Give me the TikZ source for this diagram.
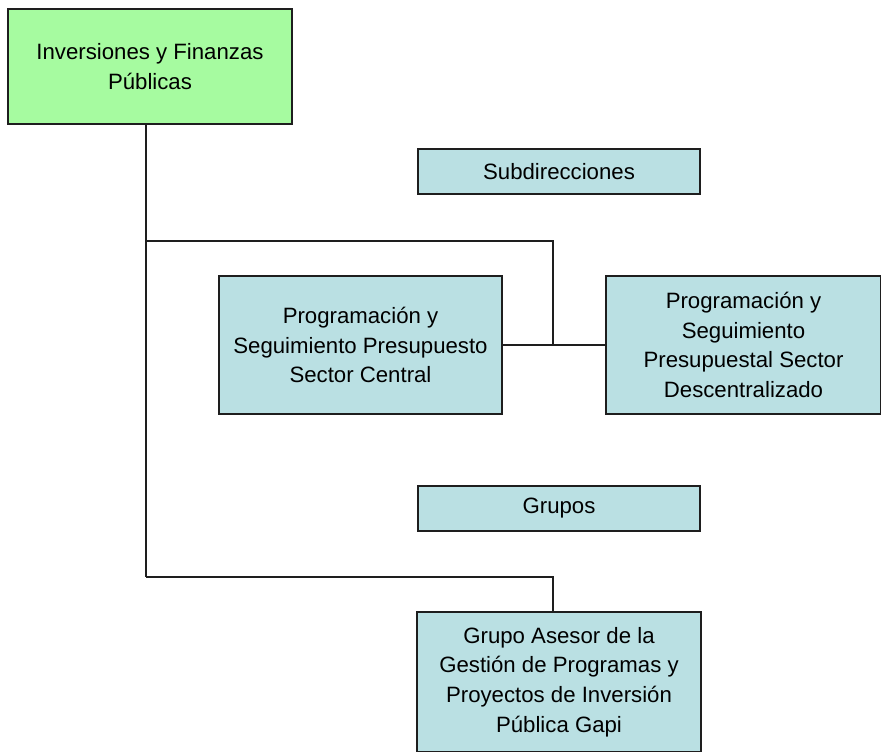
\documentclass[tikz,border=0pt]{standalone}
\usepackage{fontspec}
\setmainfont{Liberation Sans}
\definecolor{gboxfill}{RGB}{166,251,160}
\definecolor{bboxfill}{RGB}{186,224,227}
\definecolor{edgecol}{RGB}{30,30,30}
\begin{document}
\begin{tikzpicture}[x=1pt,y=-1pt,
  box/.style={draw=edgecol,line width=1.2pt,align=center,inner sep=0pt,
    font=\fontsize{22.2}{29.6}\selectfont},
  conn/.style={draw=edgecol,line width=1.2pt}]
\useasboundingbox (0,0) rectangle (881,752);
\node[box,fill=gboxfill,minimum width=284pt,minimum height=115pt] (ifp) at (150,66.5) {Inversiones y Finanzas\\[1pt]Públicas};
\node[box,fill=bboxfill,minimum width=282pt,minimum height=45pt] (sub) at (559,171.5) {Subdirecciones};
\node[box,fill=bboxfill,minimum width=283pt,minimum height=138pt] (psc) at (360.5,345) {Programación y\\Seguimiento Presupuesto\\Sector Central};
\node[box,fill=bboxfill,minimum width=275pt,minimum height=138pt] (psd) at (743.5,345) {Programación y\\Seguimiento\\Presupuestal Sector\\Descentralizado};
\node[box,fill=bboxfill,minimum width=282pt,minimum height=45pt] (grp) at (559,508.5) {Grupos};
\node[box,fill=bboxfill,minimum width=284pt,minimum height=140pt] (gap) at (559,682) {Grupo Asesor de la\\Gestión de Programas y\\Proyectos de Inversión\\Pública Gapi};
\coordinate (j1) at (146,241);
\coordinate (j2) at (553,241);
\coordinate (j3) at (553,345);
\coordinate (j4) at (146,577);
\coordinate (j5) at (553,577);
\draw[conn] (ifp.south -| j1) -- (j1) -- (j4);
\draw[conn] (j1) -- (j2) -- (j3);
\draw[conn] (psc.east) -- (psd.west);
\draw[conn] (j4) -- (j5) -- (gap.north -| j5);
\end{tikzpicture}
\end{document}
